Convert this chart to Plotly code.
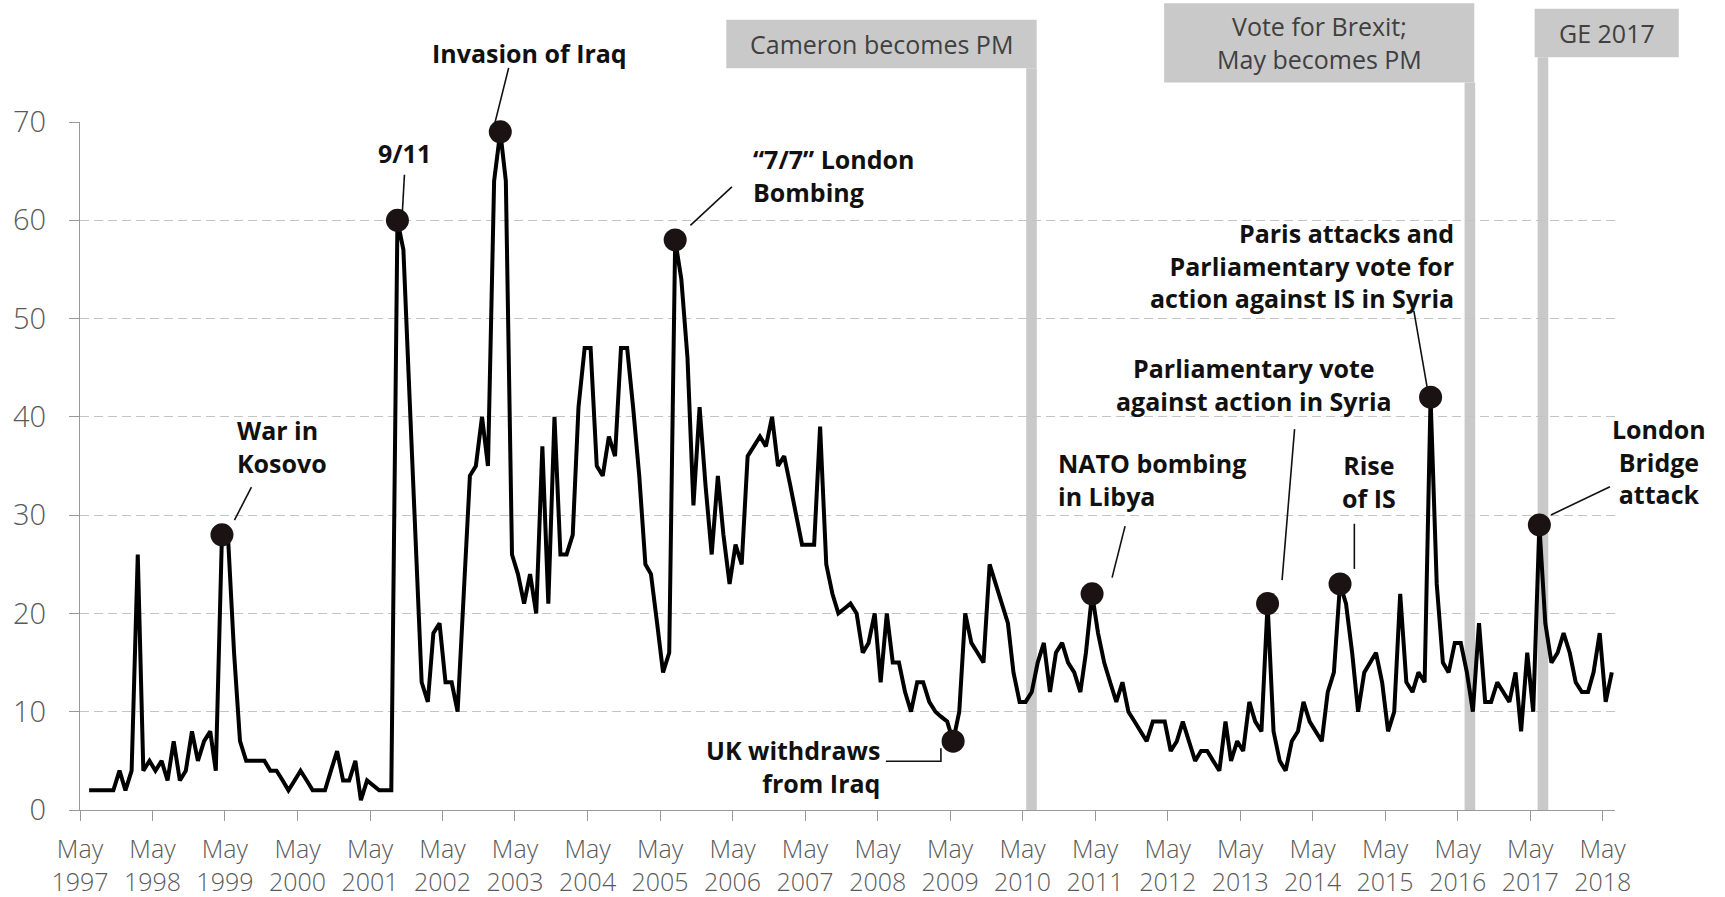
import pandas as pd
import plotly.graph_objects as go

# ---------------- data ----------------
start_month = "1997-06-01"   # first monthly observation
values = [
    2, 2, 2, 2, 2, 4, 2, 4, 26, 4, 5, 4, 5, 3, 7, 3, 4, 8, 5, 7, 8, 4,          # Jun97-Mar99
    28, 28, 16, 7, 5, 5, 5, 5, 4, 4, 3, 2, 3, 4, 3, 2, 2, 2, 4, 6, 3, 3, 5, 1,  # Apr99-Mar01
    3, 2.5, 2, 2, 2, 60, 57, 42, 27, 13, 11, 18, 19, 13, 13, 10, 22, 34, 35,     # Apr01-Oct02
    40, 35, 64, 69, 64, 26, 24, 21, 24, 20, 37, 21, 40, 26, 26, 28, 41, 47,      # Nov02-Apr04
    47, 35, 34, 38, 36, 47, 47, 41, 34, 25, 24, 19, 14, 16, 58, 54, 46, 31,      # May04-Oct05
    41, 33, 26, 34, 28, 23, 27, 25, 36, 37, 38, 37, 40, 35, 36, 33, 30, 27,      # Nov05-Apr07
    27, 27, 39, 25, 22, 20, 20.5, 21, 20, 16, 17, 20, 13, 20, 15, 15, 12, 10,    # May07-Oct08
    13, 13, 11, 10, 9.5, 9, 7, 10, 20, 17, 16, 15, 25, 23, 21, 19, 14, 11,       # Nov08-Apr10
    11, 12, 15, 17, 12, 16, 17, 15, 14, 12, 16, 22, 18, 15, 13, 11, 13, 10,      # May10-Oct11
    9, 8, 7, 9, 9, 9, 6, 7, 9, 7, 5, 6, 6, 5, 4, 9, 5, 7,                        # Nov11-Apr13
    6, 11, 9, 8, 21, 8, 5, 4, 7, 8, 11, 9, 8, 7, 12, 14, 23, 21,                 # May13-Oct14
    16, 10, 14, 15, 16, 13, 8, 10, 22, 13, 12, 14, 13, 42, 23, 15, 14, 17,       # Nov14-Apr16
    17, 14, 10, 19, 11, 11, 13, 12, 11, 14, 8, 16, 10, 29, 19, 15, 16, 18,       # May16-Oct17
    16, 13, 12, 12, 14, 18, 11, 14,                                              # Nov17-Jun18
]

tick_years = list(range(1997, 2019))
tick_month = "May"

# highlighted events: month of the dot and its label
event_months = ["1999-04", "2001-09", "2003-02", "2005-07", "2009-05",
                "2011-04", "2013-09", "2014-09", "2015-12", "2017-06"]
event_labels = [
    "War in<br>Kosovo",
    "9/11",
    "Invasion of Iraq",
    "\u201c7/7\u201d London<br>Bombing",
    "UK withdraws<br>from Iraq",
    "NATO bombing<br>in Libya",
    "Parliamentary vote<br>against action in Syria",
    "Rise<br>of IS",
    "Paris attacks and<br>Parliamentary vote for<br>action against IS in Syria",
    "London<br>Bridge<br>attack",
]

# political milestones (grey bars) and their captions
milestone_dates = ["2010-06-15", "2016-07-01", "2017-07-04"]
milestone_labels = ["Cameron becomes PM", "Vote for Brexit;<br>May becomes PM", "GE 2017"]

Y_MAX = 70
y_ticks = list(range(0, Y_MAX + 1, 10))

# ---------------- derived series ----------------
months = pd.date_range(start_month, periods=len(values), freq="MS") + pd.Timedelta(days=15)
series = pd.Series(values, index=months)
ev_x = [pd.Timestamp(m + "-01") + pd.Timedelta(days=15) for m in event_months]
ev_y = [float(series[x]) for x in ev_x]

tick_vals = [f"{y}-05-01" for y in tick_years]
tick_text = [f"{tick_month}<br>{y}" for y in tick_years]

# ---------------- styling ----------------
W, H = 1725, 897
ML, MR, MT, MB = 79.5, 110, 122, 87.3
BOLD = dict(family="Open Sans, Noto Sans, sans-serif", size=25, color="#111111", weight="bold")
TICKFONT = "Open Sans, DejaVu Sans Condensed, sans-serif"
GREY = "#c9c9c9"
AX = "#9a9a9a"

# label placement (pixel offsets from each dot) : xshift, yshift, xanchor, align
label_style = [
    (13, 88, "left", "left"),
    (7, 67, "center", "center"),
    (29.5, 79, "center", "center"),
    (76, 64, "left", "left"),
    (-71, -25, "right", "right"),
    (-36, 114, "left", "left"),
    (-14, 219, "center", "center"),
    (29, 102, "center", "center"),
    (25, 132, "right", "right"),
    (120, 63, "center", "center"),
]
# connector segments in pixels relative to each dot (x right, y up)
connectors = [
    "M 29.5,47.7 L 12.5,14.7",
    "M 7,45.5 L 5,9.5",
    "M 8.4,64 L -5.6,8",
    "M 56.7,53 L 15.2,14.5",
    "M -67.2,-20 L -12.2,-20 L -12.2,-7",
    "M 33,67.7 L 20,16.2",
    "M 27,174.5 L 14.5,23.5",
    "M 14.3,60.2 L 14.3,15",
    "M -16.7,86.3 L -3.5,10.3",
    "M 70.6,38.3 L 11.6,10",
]
# milestone box geometry in paper units: x0, x1, y0, y1
ms_boxes = [
    (0.42104, 0.62325, 1.0782, 1.1486),
    (0.70628, 0.90831, 1.0574, 1.1726),
    (0.94764, 1.04155, 1.0942, 1.1646),
]
BAR_HALF = 5.3  # px

fig = go.Figure()

fig.add_trace(go.Scatter(
    x=months, y=values, mode="lines",
    line=dict(color="#000000", width=4),
    hoverinfo="skip", showlegend=False, cliponaxis=False,
))
fig.add_trace(go.Scatter(
    x=ev_x, y=ev_y, mode="markers",
    marker=dict(color="#1b1213", size=23, line=dict(width=0)),
    hoverinfo="skip", showlegend=False, cliponaxis=False,
))

shapes = []
for d, (bx0, bx1, by0, by1) in zip(milestone_dates, ms_boxes):
    shapes.append(dict(type="rect", xref="x", yref="paper", xsizemode="pixel",
                       xanchor=d, x0=-BAR_HALF, x1=BAR_HALF, y0=0, y1=by0,
                       fillcolor=GREY, line=dict(width=0), layer="between"))
    shapes.append(dict(type="rect", xref="paper", yref="paper",
                       x0=bx0, x1=bx1, y0=by0, y1=by1,
                       fillcolor=GREY, line=dict(width=0), layer="above"))

for x, y, p in zip(ev_x, ev_y, connectors):
    shapes.append(dict(type="path", xref="x", yref="y domain",
                       xsizemode="pixel", ysizemode="pixel",
                       xanchor=x, yanchor=y / Y_MAX, path=p,
                       line=dict(color="#111111", width=1.6), layer="above"))

annotations = []
for x, y, txt, (dx, dy, xa, al) in zip(ev_x, ev_y, event_labels, label_style):
    annotations.append(dict(x=x, y=y, xref="x", yref="y", text=txt, showarrow=False,
                            xshift=dx, yshift=dy, xanchor=xa, yanchor="middle",
                            align=al, font=BOLD))

for txt, (bx0, bx1, by0, by1) in zip(milestone_labels, ms_boxes):
    annotations.append(dict(x=(bx0 + bx1) / 2, y=(by0 + by1) / 2, xref="paper", yref="paper",
                            text=txt, showarrow=False, xanchor="center", yanchor="middle",
                            align="center",
                            font=dict(family="Open Sans, Noto Sans, sans-serif", size=25, color="#404040")))

fig.update_layout(
    width=W, height=H, autosize=False,
    margin=dict(l=ML, r=MR, t=MT, b=MB, pad=0),
    plot_bgcolor="white", paper_bgcolor="white",
    shapes=shapes, annotations=annotations,
    showlegend=False,
)
fig.update_xaxes(
    type="date", range=["1997-05-01", "2018-07-02"], automargin=False,
    tickmode="array", tickvals=tick_vals, ticktext=tick_text,
    showgrid=False, zeroline=False,
    showline=True, linecolor=AX, linewidth=1.3,
    ticks="outside", ticklen=10, tickcolor=AX, tickwidth=1.3,
    tickfont=dict(family=TICKFONT, size=25, color="#5a5a5a", weight=300),
    ticklabelstandoff=7,
)
fig.update_yaxes(
    range=[0, Y_MAX], tickmode="array", tickvals=y_ticks, automargin=False,
    showgrid=True, gridcolor="#c4c4c4", gridwidth=1.2, griddash="9px,5px",
    zeroline=False,
    showline=True, linecolor=AX, linewidth=1.3,
    ticks="outside", ticklen=10, tickcolor=AX, tickwidth=1.3,
    tickfont=dict(family=TICKFONT, size=29, color="#5a5a5a", weight=300),
    ticklabelstandoff=17,
)

fig.write_html("out.html", config={"displayModeBar": False},
               post_script="document.body.style.margin='0';document.body.style.overflow='hidden';")
